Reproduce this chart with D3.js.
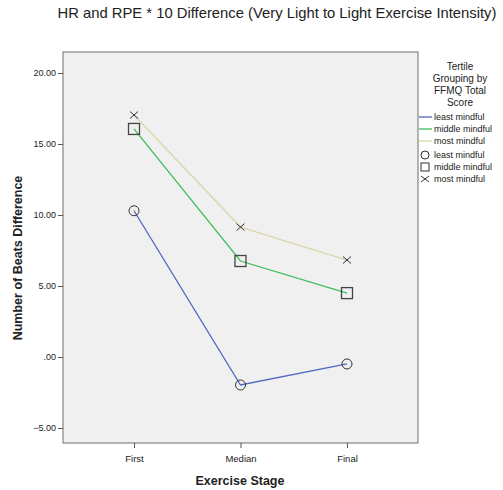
<!DOCTYPE html>
<html>
<head>
<meta charset="utf-8">
<script src="https://cdn.jsdelivr.net/npm/d3@7"></script>
<style>
  body { margin: 0; background: #fff; }
  text { font-family: "Liberation Sans", Arial, sans-serif; }
</style>
</head>
<body>
<svg id="chart" width="503" height="490"></svg>
<script>
const stages = ["First", "Median", "Final"];
const groups = ["least mindful", "middle mindful", "most mindful"];
const leastValues = [10.3, -1.97, -0.49];
const middleValues = [16.06, 6.76, 4.5];
const mostValues = [17.04, 9.15, 6.83];
const yTicks = [-5, 0, 5, 10, 15, 20];

const series = [
  { name: groups[0], values: leastValues, color: "#5066c3", marker: "circle" },
  { name: groups[1], values: middleValues, color: "#3fbe5a", marker: "square" },
  { name: groups[2], values: mostValues, color: "#dcd6aa", marker: "cross" },
];

const margin = { top: 52, right: 85, bottom: 47, left: 63 };
const width = 503, height = 490;
const svg = d3.select("#chart");

const x = d3.scalePoint().domain(stages).range([134, 347]);
const y = d3.scaleLinear().domain([-5, 20]).range([428, 73]);

// plot background
svg.append("rect")
  .attr("x", margin.left)
  .attr("y", margin.top)
  .attr("width", width - margin.left - margin.right)
  .attr("height", height - margin.top - margin.bottom)
  .attr("fill", "#f0f0f0")
  .attr("stroke", "#6e6e6e")
  .attr("stroke-width", 1);

// title
svg.append("text")
  .attr("x", 277)
  .attr("y", 18)
  .attr("text-anchor", "middle")
  .attr("font-size", 14.8)
  .attr("fill", "#222")
  .text("HR and RPE * 10 Difference (Very Light to Light Exercise Intensity)");

// y axis
const yAxis = svg.append("g")
  .attr("transform", `translate(${margin.left}, 0)`)
  .call(d3.axisLeft(y).tickValues(yTicks).tickSize(5).tickPadding(2)
    .tickFormat((d) => d3.format(".2f")(d).replace(/^0/, "")));
yAxis.select(".domain").remove();
yAxis.selectAll("line").attr("stroke", "#555");
yAxis.selectAll("text").attr("font-size", 9).attr("fill", "#222")
  .style("font-family", '"Liberation Sans", Arial, sans-serif');

// x axis
const xAxis = svg.append("g")
  .attr("transform", `translate(0, ${height - margin.bottom})`)
  .call(d3.axisBottom(x).tickSize(5).tickPadding(7));
xAxis.select(".domain").remove();
xAxis.selectAll("line").attr("stroke", "#555");
xAxis.selectAll("text").attr("font-size", 9.5).attr("fill", "#222")
  .style("font-family", '"Liberation Sans", Arial, sans-serif');

// axis titles
svg.append("text")
  .attr("x", 240)
  .attr("y", 485)
  .attr("text-anchor", "middle")
  .attr("font-size", 12.5)
  .attr("font-weight", "bold")
  .attr("fill", "#222")
  .text("Exercise Stage");

svg.append("text")
  .attr("transform", `translate(22, 258) rotate(-90)`)
  .attr("text-anchor", "middle")
  .attr("font-size", 12.5)
  .attr("font-weight", "bold")
  .attr("fill", "#222")
  .text("Number of Beats Difference");

const line = d3.line().x((d, i) => x(stages[i])).y((d) => y(d));

function drawMarker(g, type, cx, cy) {
  if (type === "circle") {
    g.append("circle").attr("cx", cx).attr("cy", cy).attr("r", 5)
      .attr("fill", "none").attr("stroke", "#333").attr("stroke-width", 1);
  } else if (type === "square") {
    g.append("rect").attr("x", cx - 5.5).attr("y", cy - 5.5)
      .attr("width", 11).attr("height", 11)
      .attr("fill", "none").attr("stroke", "#444").attr("stroke-width", 1.3);
  } else {
    g.append("path")
      .attr("d", `M${cx - 4},${cy - 3.5}L${cx + 4},${cy + 3.5}M${cx - 4},${cy + 3.5}L${cx + 4},${cy - 3.5}`)
      .attr("stroke", "#333").attr("stroke-width", 1).attr("fill", "none");
  }
}

const plot = svg.append("g");
series.forEach((s) => {
  plot.append("path")
    .attr("d", line(s.values))
    .attr("fill", "none")
    .attr("stroke", s.color)
    .attr("stroke-width", 1.3);
});
series.forEach((s) => {
  s.values.forEach((v, i) => drawMarker(plot, s.marker, x(stages[i]), y(v)));
});

// legend
const legend = svg.append("g");
["Tertile", "Grouping by", "FFMQ Total", "Score"].forEach((t, i) => {
  legend.append("text")
    .attr("x", 460)
    .attr("y", 70 + i * 12)
    .attr("text-anchor", "middle")
    .attr("font-size", 10)
    .attr("fill", "#222")
    .text(t);
});
series.forEach((s, i) => {
  const ly = 117 + i * 12;
  legend.append("line")
    .attr("x1", 419).attr("x2", 432)
    .attr("y1", ly).attr("y2", ly)
    .attr("stroke", s.color).attr("stroke-width", 1.3);
  legend.append("text")
    .attr("x", 434).attr("y", ly + 3)
    .attr("font-size", 9).attr("fill", "#222")
    .text(s.name);
});
series.forEach((s, i) => {
  const ly = 155 + i * 12;
  const mg = legend.append("g");
  if (s.marker === "circle") {
    mg.append("circle").attr("cx", 425).attr("cy", ly).attr("r", 4)
      .attr("fill", "none").attr("stroke", "#333");
  } else if (s.marker === "square") {
    mg.append("rect").attr("x", 421).attr("y", ly - 4).attr("width", 8).attr("height", 8)
      .attr("fill", "none").attr("stroke", "#333");
  } else {
    mg.append("path")
      .attr("d", `M421,${ly - 3}L429,${ly + 3}M421,${ly + 3}L429,${ly - 3}`)
      .attr("stroke", "#333").attr("fill", "none");
  }
  legend.append("text")
    .attr("x", 434).attr("y", ly + 3)
    .attr("font-size", 9).attr("fill", "#222")
    .text(s.name);
});
</script>
</body>
</html>
